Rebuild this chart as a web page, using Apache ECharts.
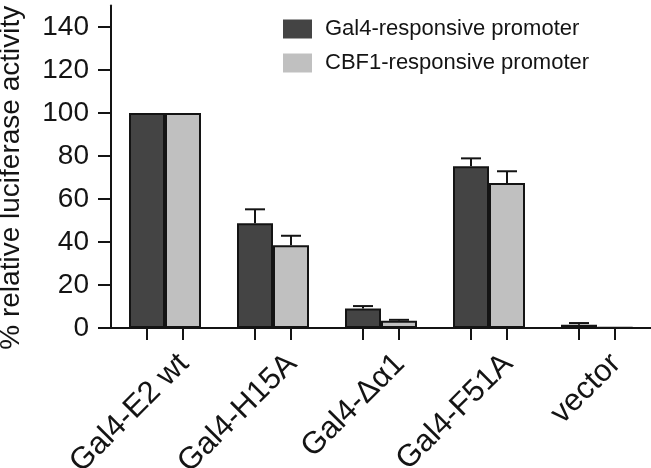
<!DOCTYPE html>
<html>
<head>
<meta charset="utf-8">
<script src="https://cdn.jsdelivr.net/npm/echarts@6/dist/echarts.min.js"></script>
<style>
html,body{margin:0;padding:0;background:#fff;}
#chart{width:651px;height:468px;}
</style>
</head>
<body>
<div id="chart"></div>
<script>
const categories = ['Gal4-E2 wt', 'Gal4-H15A', 'Gal4-\u0394\u03b11', 'Gal4-F51A', 'vector'];
const seriesNames = ['Gal4-responsive promoter', 'CBF1-responsive promoter'];
const gal4 = [100, 48.7, 9.1, 75.2, 1.5];
const gal4Err = [0, 6.5, 1.1, 3.7, 0.8];
const cbf1 = [100, 38.5, 3.4, 67.4, 0.3];
const cbf1Err = [0, 4.4, 0.4, 5.5, 0];
const yTicks = [0, 20, 40, 60, 80, 100, 120, 140];

const FONT = 'Liberation Sans';
const INK = '#141414';
const DARK = '#444444';
const LIGHT = '#c0c0c0';
const BAR_W = 36;
const CAT_W = 108;
const LABEL_SHIFT = 19; // px to the right of category centre

// tick positions at bar centres (on a 0..N helper axis)
const barTicks = [];
const labelPos = [];
categories.forEach((c, i) => {
  barTicks.push(i + 0.5 - (BAR_W / 2) / CAT_W);
  barTicks.push(i + 0.5 + (BAR_W / 2) / CAT_W);
  labelPos.push(i + 0.5 + LABEL_SHIFT / CAT_W);
});

function errSeries(vals, errs, offset) {
  return {
    type: 'custom',
    xAxisIndex: 0,
    yAxisIndex: 0,
    z: 5,
    silent: true,
    data: vals.map((v, i) => [i, v, errs[i]]),
    renderItem: function (params, api) {
      const e = api.value(2);
      if (!e) return null;
      const p = api.coord([api.value(0), api.value(1)]);
      const t = api.coord([api.value(0), api.value(1) + e]);
      const x = p[0] + offset;
      return {
        type: 'group',
        children: [
          { type: 'line', shape: { x1: x, y1: p[1], x2: x, y2: t[1] }, style: { stroke: INK, lineWidth: 2 } },
          { type: 'line', shape: { x1: x - 10, y1: t[1], x2: x + 10, y2: t[1] }, style: { stroke: INK, lineWidth: 2 } }
        ]
      };
    }
  };
}

const chart = echarts.init(document.getElementById('chart'), null, { renderer: 'canvas' });
chart.setOption({
  animation: false,
  backgroundColor: '#fff',
  textStyle: { fontFamily: FONT },
  grid: { left: 111, right: 0, top: 5.5, bottom: 140, containLabel: false, outerBoundsMode: 'none' },
  legend: {
    data: seriesNames,
    orient: 'vertical',
    left: 283,
    top: 18,
    padding: 0,
    itemWidth: 29,
    itemHeight: 19,
    itemGap: 12,
    icon: 'rect',
    itemStyle: { borderWidth: 0 },
    textStyle: { fontFamily: FONT, fontSize: 22, color: INK, padding: [0, 0, 0, 8] }
  },
  xAxis: [
    {
      type: 'category',
      data: categories,
      boundaryGap: true,
      axisLine: { lineStyle: { color: INK, width: 2 } },
      axisTick: { show: false },
      axisLabel: { show: false }
    },
    {
      type: 'value',
      min: 0,
      max: categories.length,
      position: 'bottom',
      axisLine: { show: false },
      splitLine: { show: false },
      axisTick: { show: true, length: 12, customValues: barTicks, lineStyle: { color: INK, width: 2 } },
      axisLabel: {
        show: true,
        customValues: labelPos,
        formatter: function (v) { return categories[Math.floor(v)]; },
        rotate: 45, fontSize: 31, fontFamily: FONT, color: INK, margin: 31
      }
    }
  ],
  yAxis: {
    type: 'value',
    min: 0,
    max: 150,
    name: '% relative luciferase activity',
    nameLocation: 'middle',
    nameRotate: 90,
    nameGap: 86,
    nameTextStyle: { fontFamily: FONT, fontSize: 28, color: INK, padding: [0, 22, 0, 0] },
    splitLine: { show: false },
    axisLine: { show: true, lineStyle: { color: INK, width: 2 } },
    axisTick: { show: true, length: 13, customValues: yTicks, lineStyle: { color: INK, width: 2 } },
    axisLabel: { customValues: yTicks, fontFamily: FONT, fontSize: 28, color: INK, margin: 22 }
  },
  series: [
    {
      name: seriesNames[0],
      type: 'bar',
      data: gal4,
      barWidth: BAR_W,
      barGap: '0%',
      itemStyle: { color: DARK, borderColor: INK, borderWidth: 2 }
    },
    {
      name: seriesNames[1],
      type: 'bar',
      data: cbf1,
      barWidth: BAR_W,
      barGap: '0%',
      itemStyle: { color: LIGHT, borderColor: INK, borderWidth: 2 }
    },
    errSeries(gal4, gal4Err, -BAR_W / 2),
    errSeries(cbf1, cbf1Err, BAR_W / 2)
  ]
});
</script>
</body>
</html>
